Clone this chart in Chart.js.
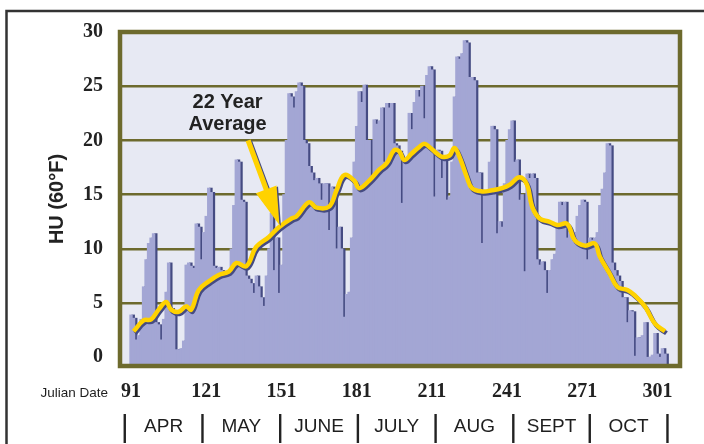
<!DOCTYPE html>
<html>
<head>
<meta charset="utf-8">
<script src="https://cdn.jsdelivr.net/npm/chart.js@4/dist/chart.umd.min.js"></script>
<style>
  body { margin: 0; background: #fff; }
  #wrap { width: 704px; height: 444px; }
</style>
</head>
<body>
<div id="wrap"><canvas id="hu-chart" width="704" height="444"></canvas></div>
<script>
// daily heat units, julian day 91 .. 304
var firstDay = 91;
var dailyHU = [
  3.9, 3.6, 1.6, 2.0, 3.5, 6.5, 9.0, 10.5, 11.0, 11.4,      // 91
  3.2, 3.0, 1.6, 3.5, 6.0, 8.7, 4.5, 4.2, 0.7, 0.7,         // 101
  0.8, 1.5, 8.5, 8.7, 8.4, 8.2, 12.3, 12.0, 9.0, 11.5,      // 111
  13.0, 15.6, 15.2, 8.4, 8.2, 8.3, 8.0, 7.9, 7.6, 8.0,      // 121
  10.0, 14.0, 18.2, 18.0, 14.5, 14.3, 7.5, 7.2, 6.8, 5.9,   // 131
  7.5, 6.5, 5.5, 4.7, 7.5, 10.0, 13.3, 8.0, 11.0, 5.9,      // 141
  8.5, 15.0, 20.0, 24.3, 24.0, 23.0, 24.5, 25.3, 25.0, 20.0,  // 151
  19.7, 17.6, 17.0, 16.3, 16.5, 16.0, 14.5, 16.0, 16.0, 11.7, // 161
  15.7, 15.5, 10.0, 12.0, 10.0, 3.7, 5.8, 6.0, 11.0, 18.0,    // 171
  21.3, 24.5, 23.5, 25.1, 20.0, 20.0, 16.5, 21.9, 21.5, 21.8, // 181
  23.0, 18.0, 23.4, 23.0, 23.4, 19.7, 19.5, 19.0, 14.2, 18.3, // 191
  18.0, 22.5, 21.0, 23.5, 24.6, 24.0, 25.0, 22.0, 26.0, 26.8, // 201
  26.5, 14.8, 19.1, 19.0, 16.5, 18.5, 14.5, 14.8, 18.0, 24.0, // 211
  27.7, 27.5, 28.0, 29.2, 29.0, 25.8, 25.8, 25.5, 17.0, 17.0, // 221
  10.5, 15.0, 15.2, 18.0, 21.3, 21.0, 11.4, 12.5, 12.0, 16.0, // 231
  20.0, 21.0, 21.8, 18.0, 18.2, 14.5, 15.0, 7.9, 16.9, 16.5,  // 241
  16.9, 16.5, 9.0, 8.5, 8.8, 8.0, 5.9, 8.0, 9.0, 9.5,         // 251
  12.0, 14.3, 14.0, 14.3, 11.0, 11.5, 11.0, 11.5, 13.0, 14.0, // 261
  14.5, 14.3, 9.0, 11.0, 10.8, 11.0, 11.5, 14.0, 15.5, 17.0,  // 271
  19.7, 19.5, 8.7, 8.0, 7.5, 7.0, 5.5, 5.5, 3.2, 4.3,         // 281
  4.2, 0.1, 1.8, 1.8, 2.0, 3.2, 0.0, 0.0, 0.2, 2.2,           // 291
  0.3, 0.0, 0.8, 0.3                                          // 301
];

// 22 year average
var avgDays = [92, 96, 99, 102, 105, 107, 110, 113, 115, 118, 122, 126, 130, 133, 137, 141, 146, 150, 155, 157,
  162, 165, 170, 173, 176, 180, 182, 186, 190, 193, 196, 198, 200, 203, 206, 208, 210, 213, 215, 218,
  220, 222, 225, 227, 231, 235, 239, 242, 246, 249, 251, 254, 258, 261, 265, 268, 272, 276, 278, 282,
  285, 289, 292, 296, 300, 304];
var avgHU = [2.4, 3.4, 3.5, 4.4, 5.1, 4.4, 4.2, 4.7, 4.4, 6.2, 7.0, 7.6, 7.9, 8.7, 8.4, 10.2, 11.1, 12.0, 12.8, 13.0,
  14.3, 13.8, 13.9, 15.4, 16.8, 16.3, 15.6, 16.3, 17.3, 17.9, 19.1, 19.0, 18.2, 18.8, 19.4, 19.7, 19.4, 18.8, 18.5, 18.6,
  19.3, 18.5, 16.6, 15.6, 15.3, 15.4, 15.6, 15.9, 16.6, 15.9, 13.9, 12.8, 12.5, 12.2, 12.3, 10.8, 10.3, 10.5, 9.3, 7.7,
  6.5, 6.2, 5.7, 4.7, 3.1, 2.4];

var julianTicks = [91, 121, 151, 181, 211, 241, 271, 301];
var huTicks = [0, 5, 10, 15, 20, 25, 30];
var months = ['APR', 'MAY', 'JUNE', 'JULY', 'AUG', 'SEPT', 'OCT'];
var monthEdges = [88.5, 119.5, 150.5, 181.5, 212.5, 243.5, 274, 305];

var OLIVE = '#6d6a2d';
var SHADE = '#454b82';

var dailyPoints = dailyHU.map(function (v, i) { return { x: firstDay + i, y: v }; });
var avgPoints = avgDays.map(function (d, i) { return { x: d, y: avgHU[i] }; });

// background, outer frame
var backdrop = {
  id: 'backdrop',
  beforeDraw: function (chart) {
    var c = chart.ctx, a = chart.chartArea;
    c.save();
    c.fillStyle = '#fff';
    c.fillRect(0, 0, chart.width, chart.height);
    c.strokeStyle = '#333';
    c.lineWidth = 2.5;
    c.beginPath();
    c.moveTo(6.5, chart.height);
    c.lineTo(6.5, 11);
    c.lineTo(chart.width, 11);
    c.stroke();
    c.fillStyle = '#e7e9f3';
    c.fillRect(a.left, a.top, a.right - a.left, a.bottom - a.top);
    c.restore();
  }
};

// dark right-hand edge on the bars, drop shadow under the line
var shadows = {
  id: 'shadows',
  beforeDatasetDraw: function (chart, args) {
    var c = chart.ctx;
    c.save();
    c.shadowColor = SHADE;
    c.shadowBlur = 0;
    if (args.meta.type === 'bar') {
      c.shadowOffsetX = 2.2;
      c.shadowOffsetY = 0;
    } else {
      c.shadowOffsetX = 1.5;
      c.shadowOffsetY = 2;
    }
  },
  afterDatasetDraw: function (chart) {
    chart.ctx.restore();
  }
};

var extras = {
  id: 'extras',
  afterDraw: function (chart) {
    var c = chart.ctx, a = chart.chartArea;
    var xs = chart.scales.x, ys = chart.scales.y;
    c.save();

    // plot frame
    c.strokeStyle = OLIVE;
    c.lineWidth = 4.5;
    c.strokeRect(a.left, a.top, a.right - a.left, a.bottom - a.top);

    // "22 Year Average" label + arrow
    c.fillStyle = '#222';
    c.font = 'bold 20px "Liberation Sans", Arial, sans-serif';
    c.textAlign = 'center';
    c.textBaseline = 'middle';
    var lx = xs.getPixelForValue(129.5);
    c.fillText('22 Year', lx, ys.getPixelForValue(23.5));
    c.fillText('Average', lx, ys.getPixelForValue(21.5));

    var sx = xs.getPixelForValue(137.7), sy = ys.getPixelForValue(20.0);
    var tx = xs.getPixelForValue(150.2), ty = ys.getPixelForValue(12.2);
    var dx = tx - sx, dy = ty - sy, len = Math.sqrt(dx * dx + dy * dy);
    var ux = dx / len, uy = dy / len, nx = -uy, ny = ux;
    var hl = 38, hw = 11, sw = 2.6;
    var bx = tx - ux * hl, by = ty - uy * hl;
    c.shadowColor = SHADE;
    c.shadowOffsetX = 1.5;
    c.shadowOffsetY = 1;
    c.fillStyle = '#ffd200';
    c.beginPath();
    c.moveTo(sx + nx * sw, sy + ny * sw);
    c.lineTo(bx + nx * sw, by + ny * sw);
    c.lineTo(bx + nx * hw, by + ny * hw);
    c.lineTo(tx, ty);
    c.lineTo(bx - nx * hw, by - ny * hw);
    c.lineTo(bx - nx * sw, by - ny * sw);
    c.lineTo(sx - nx * sw, sy - ny * sw);
    c.closePath();
    c.fill();
    c.shadowColor = 'transparent';

    // axis caption + months row
    c.fillStyle = '#1e1e1e';
    c.font = '13.5px "Liberation Sans", Arial, sans-serif';
    c.textAlign = 'right';
    c.fillText('Julian Date', 108, 393);

    c.font = '19px "Liberation Sans", Arial, sans-serif';
    c.textAlign = 'center';
    c.strokeStyle = '#222';
    c.lineWidth = 2.4;
    monthEdges.forEach(function (d, i) {
      var x = xs.getPixelForValue(d);
      c.beginPath();
      c.moveTo(x, 414);
      c.lineTo(x, 443);
      c.stroke();
      if (i < months.length) {
        var mid = (x + xs.getPixelForValue(monthEdges[i + 1])) / 2;
        c.fillText(months[i], mid, 427);
      }
    });
    c.restore();
  }
};

var ctx = document.getElementById('hu-chart');

var huChart = new Chart(ctx, {
  type: 'bar',
  data: {
    datasets: [
      {
        type: 'line',
        label: '22 Year Average',
        data: avgPoints,
        borderColor: '#ffd200',
        borderWidth: 4.5,
        pointRadius: 0,
        tension: 0.4,
        fill: false,
        order: 0
      },
      {
        type: 'bar',
        label: 'HU',
        data: dailyPoints,
        backgroundColor: '#a3a6d4',
        borderWidth: 0,
        inflateAmount: 0.45,
        barPercentage: 1,
        categoryPercentage: 1,
        base: -0.8,
        grouped: false,
        order: 1
      }
    ]
  },
  options: {
    responsive: false,
    animation: false,
    devicePixelRatio: 1,
    layout: { padding: { top: 32, right: 24, bottom: 0, left: 0 } },
    plugins: {
      legend: { display: false },
      tooltip: { enabled: false }
    },
    scales: {
      x: {
        type: 'linear',
        offset: false,
        min: 86.6,
        max: 310,
        grid: { display: false, drawTicks: false },
        border: { display: false },
        afterBuildTicks: function (scale) {
          scale.ticks = julianTicks.map(function (v) { return { value: v }; });
        },
        afterFit: function (scale) { scale.height = 78; },
        ticks: {
          padding: 14,
          maxRotation: 0,
          autoSkip: false,
          color: '#222',
          font: { family: '"Liberation Serif", "Times New Roman", serif', size: 20, weight: 'bold' }
        }
      },
      y: {
        min: -0.8,
        max: 30,
        border: { display: false },
        grid: {
          drawTicks: false,
          lineWidth: 2.5,
          color: function (c) {
            return (c.tick && (c.tick.value === 0 || c.tick.value === 30)) ? 'rgba(0,0,0,0)' : OLIVE;
          }
        },
        afterBuildTicks: function (scale) {
          scale.ticks = huTicks.map(function (v) { return { value: v }; });
        },
        afterFit: function (scale) { scale.width = 120; },
        ticks: {
          padding: 17,
          color: '#222',
          font: { family: '"Liberation Serif", "Times New Roman", serif', size: 20, weight: 'bold' }
        },
        title: {
          display: true,
          text: 'HU (60°F)',
          color: '#222',
          padding: { top: 45, bottom: 0 },
          font: { family: '"Liberation Sans", Arial, sans-serif', size: 20, weight: 'bold' }
        }
      }
    }
  },
  plugins: [backdrop, shadows, extras]
});
</script>
</body>
</html>
